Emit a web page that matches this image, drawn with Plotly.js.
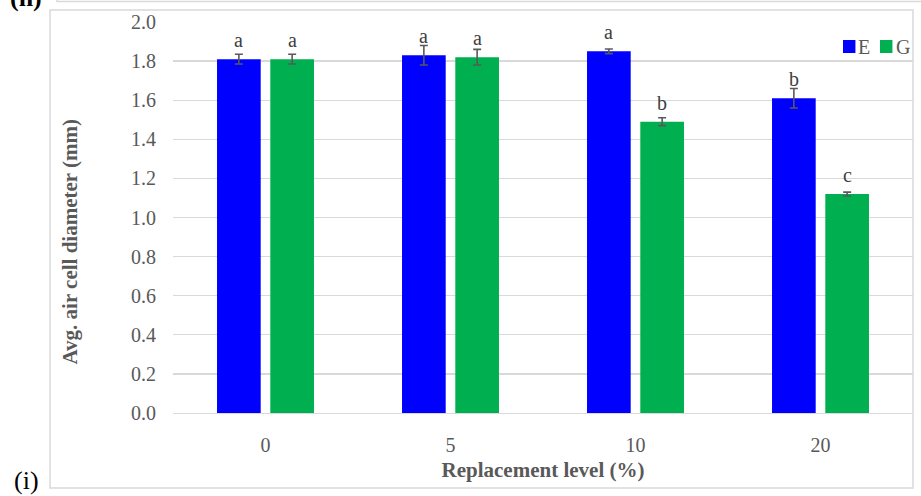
<!DOCTYPE html>
<html>
<head>
<meta charset="utf-8">
<script src="https://cdn.plot.ly/plotly-3.0.1.min.js"></script>
<style>
  html, body { margin: 0; padding: 0; background: #ffffff; }
  #chart { width: 921px; height: 496px; }
</style>
</head>
<body>
<div id="chart"></div>
<script>
// Replacement levels (%) on the x axis
const categories = ['0', '5', '10', '20'];

// Average air cell diameter (mm), mean and standard error per series
const eValues = [1.81, 1.83, 1.85, 1.61];
const gValues = [1.81, 1.82, 1.49, 1.12];
const eErrors = [0.025, 0.05, 0.012, 0.05];
const gErrors = [0.025, 0.04, 0.02, 0.01];

// Significance letters shown above each bar
const eLetters = ['a', 'a', 'a', 'b'];
const gLetters = ['a', 'a', 'b', 'c'];

const seriesNames = ['E', 'G'];
const seriesColors = ['#0000ff', '#00b050'];
const yTicks = [0, 0.2, 0.4, 0.6, 0.8, 1.0, 1.2, 1.4, 1.6, 1.8, 2.0];

const serif = 'Liberation Serif, Times New Roman, serif';
const textGray = '#595959';
const lineGray = '#d9d9d9';

const bargap = 0.424;
const bargroupgap = 0.18;

function barTrace(name, values, errors, color) {
  return {
    type: 'bar',
    name: name,
    x: categories,
    y: values,
    marker: { color: color, line: { width: 0 } },
    error_y: {
      type: 'data',
      array: errors,
      visible: true,
      color: textGray,
      thickness: 1.6,
      width: 4
    },
    hoverinfo: 'x+y+name'
  };
}

const traces = [
  barTrace(seriesNames[0], eValues, eErrors, seriesColors[0]),
  barTrace(seriesNames[1], gValues, gErrors, seriesColors[1])
];

// Offset of each bar from its category centre, in category units
const slot = (1 - bargap) / 2;
const offsets = [-slot / 2, slot / 2];

const annotations = [];
[[eValues, eLetters], [gValues, gLetters]].forEach(function (pair, s) {
  pair[0].forEach(function (v, i) {
    annotations.push({
      x: i + offsets[s],
      y: v,
      xref: 'x',
      yref: 'y',
      text: pair[1][i],
      showarrow: false,
      yanchor: 'bottom',
      yshift: 6,
      font: { family: serif, size: 20, color: '#404040' }
    });
  });
});

// Y axis title, set slightly below the middle of the axis
annotations.push({
  xref: 'paper', yref: 'paper',
  x: -0.1405, y: 0.4386,
  xanchor: 'center', yanchor: 'middle',
  textangle: -90,
  text: '<b>Avg. air cell diameter (mm)</b>',
  showarrow: false,
  font: { family: serif, size: 21, color: textGray }
});

// Compact legend: colour swatch followed closely by the series name
const legendSwatchX = [0.9054, 0.9554];
const legendTextX = [0.9230, 0.9743];
const shapes = [];
seriesNames.forEach(function (name, s) {
  shapes.push({
    type: 'rect', xref: 'paper', yref: 'paper',
    x0: legendSwatchX[s], x1: legendSwatchX[s] + 0.0168,
    y0: 0.9207, y1: 0.9540,
    line: { width: 0 },
    fillcolor: seriesColors[s]
  });
  annotations.push({
    xref: 'paper', yref: 'paper',
    x: legendTextX[s], y: 0.937,
    xanchor: 'left', yanchor: 'middle',
    text: name, showarrow: false,
    font: { family: serif, size: 20, color: textGray }
  });
});

// Panel labels
annotations.push({
  xref: 'paper', yref: 'paper',
  x: -0.1986, y: -0.1714,
  xanchor: 'center', yanchor: 'middle',
  text: '(i)', showarrow: false,
  font: { family: serif, size: 26, color: '#000000' }
});
annotations.push({
  xref: 'paper', yref: 'paper',
  x: -0.1986, y: 1.062,
  xanchor: 'center', yanchor: 'middle',
  text: '<b>(h)</b>', showarrow: false,
  font: { family: serif, size: 26, color: '#000000' }
});

// chart frame
shapes.push({
  type: 'rect', xref: 'paper', yref: 'paper',
  x0: -0.1662, x1: 1.0, y0: -0.1918, y1: 1.0307,
  line: { color: lineGray, width: 1.5 },
  fillcolor: 'rgba(0,0,0,0)',
  layer: 'below'
});
// frame of the panel above
shapes.push({
  type: 'rect', xref: 'paper', yref: 'paper',
  x0: -0.1568, x1: 1.02, y0: 1.0524, y1: 1.2,
  line: { color: lineGray, width: 1.5 },
  fillcolor: 'rgba(0,0,0,0)',
  layer: 'below'
});

const layout = {
  width: 921,
  height: 496,
  margin: { l: 173, r: 8, t: 22, b: 83, pad: 0 },
  paper_bgcolor: '#ffffff',
  plot_bgcolor: '#ffffff',
  barmode: 'group',
  bargap: bargap,
  bargroupgap: bargroupgap,
  showlegend: false,
  xaxis: {
    type: 'category',
    showgrid: false,
    showline: true,
    linecolor: lineGray,
    linewidth: 1.3,
    ticks: '',
    ticklabelstandoff: 14,
    tickfont: { family: serif, size: 20, color: textGray },
    title: {
      text: '<b>Replacement level (%)</b>',
      font: { family: serif, size: 21, color: textGray },
      standoff: 7
    },
    fixedrange: true
  },
  yaxis: {
    range: [0, 2],
    tickvals: yTicks,
    ticktext: yTicks.map(function (t) { return t.toFixed(1); }),
    showgrid: true,
    gridcolor: lineGray,
    gridwidth: 1.3,
    zeroline: false,
    showline: false,
    ticks: '',
    ticklabelstandoff: 16,
    tickfont: { family: serif, size: 20, color: textGray },
    fixedrange: true
  },
  shapes: shapes,
  annotations: annotations
};

Plotly.newPlot('chart', traces, layout, { displayModeBar: false, staticPlot: true });
</script>
</body>
</html>
